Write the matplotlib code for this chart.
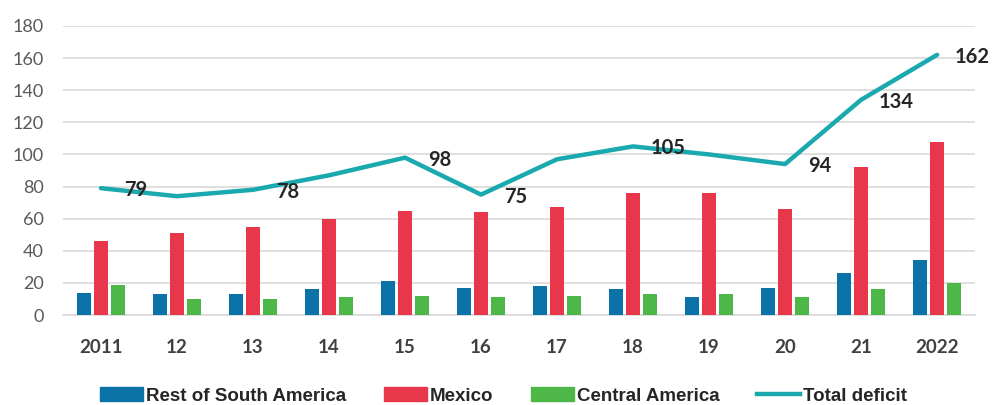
import matplotlib
matplotlib.use("Agg")
import matplotlib.pyplot as plt
import numpy as np
from matplotlib.lines import Line2D
from matplotlib.patches import Patch

years = ["2011", "12", "13", "14", "15", "16", "17", "18", "19", "20", "21", "2022"]
rest_south_america = [14, 13, 13, 16, 21, 17, 18, 16, 11, 17, 26, 34]
mexico = [46, 51, 55, 60, 65, 64, 67, 76, 76, 66, 92, 108]
central_america = [19, 10, 10, 11, 12, 11, 12, 13, 13, 11, 16, 20]
total_deficit = [79, 74, 78, 87, 98, 75, 97, 105, 100, 94, 134, 162]
labelled = [True, False, True, False, True, True, False, True, False, True, True, True]

series_names = ["Rest of South America", "Mexico", "Central America", "Total deficit"]
c_blue, c_red, c_green, c_teal = "#0B72A8", "#E8364B", "#4DB848", "#1AA9AE"

fig = plt.figure(figsize=(9.95, 4.05), dpi=100)
ax = fig.add_axes([0.0633, 0.222, 0.9167, 0.714])

x = np.arange(len(years))
w = 0.18
off = 0.225
ax.bar(x - off, rest_south_america, w, color=c_blue, zorder=3)
ax.bar(x, mexico, w, color=c_red, zorder=3)
ax.bar(x + off, central_america, w, color=c_green, zorder=3)
ax.plot(x, total_deficit, color=c_teal, lw=3.2, zorder=4, solid_capstyle="round")

for xi, v, show in zip(x, total_deficit, labelled):
    if show:
        ax.annotate(str(v), (xi, v), xytext=(25, -1.5), textcoords="offset points",
                    ha="center", va="center", fontsize=14.5, fontweight="bold",
                    color="#262626", family=["Lato", "DejaVu Sans"], zorder=5,
                    annotation_clip=False)

ax.set_xlim(-0.5, 11.5)
ax.set_ylim(0, 180)
ax.set_yticks(range(0, 181, 20))
ax.set_xticks(x)
ax.set_xticklabels(years, fontsize=13.5, fontweight="bold", color="#404040",
                   family=["Lato", "DejaVu Sans"])
for lab in ax.get_yticklabels():
    lab.set_fontsize(13)
    lab.set_color("#595959")
    lab.set_family(["Lato", "DejaVu Sans"])
ax.tick_params(axis="both", length=0)
ax.tick_params(axis="y", pad=14)
ax.tick_params(axis="x", pad=17)
ax.grid(axis="y", color="#D9D9D9", lw=1.2, zorder=0)
for s in ["top", "right", "left"]:
    ax.spines[s].set_visible(False)
ax.spines["bottom"].set_color("#D9D9D9")
ax.spines["bottom"].set_linewidth(1.2)

handles = [Patch(color=c_blue), Patch(color=c_red), Patch(color=c_green),
           Line2D([], [], color=c_teal, lw=3.2)]
leg = fig.legend(handles, series_names, loc="center", bbox_to_anchor=(0.506, 0.022),
                 ncol=4, frameon=False, handlelength=2.3, handleheight=0.75,
                 handletextpad=0.15, columnspacing=2.0,
                 prop={"family": ["Liberation Sans", "DejaVu Sans"], "weight": "bold", "size": 13.5})
for t in leg.get_texts():
    t.set_color("#262626")

fig.savefig("out.png", dpi=100)
